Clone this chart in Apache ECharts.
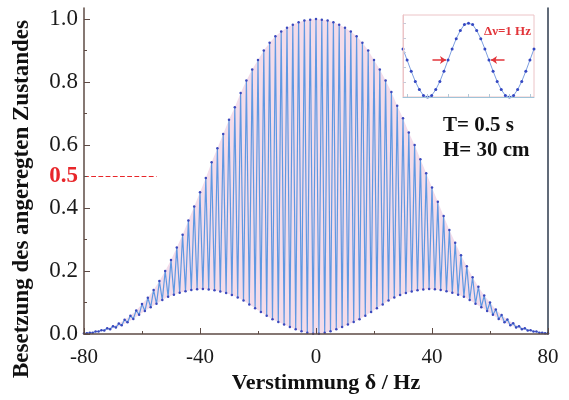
<!DOCTYPE html>
<html>
<head>
<meta charset="utf-8">
<script src="https://cdn.jsdelivr.net/npm/echarts@6/dist/echarts.min.js"></script>
<style>
  html, body { margin: 0; padding: 0; background: #fff; }
  #chart { width: 569px; height: 400px; }
</style>
</head>
<body>
<div id="chart"></div>
<script>
// fringe maxima at even detuning -80 ... 80 Hz
const peakValues = [
  0.002, 0.004, 0.008, 0.012, 0.018, 0.025, 0.033, 0.045, 0.058, 0.075,
  0.095, 0.115, 0.14, 0.168, 0.2, 0.235, 0.275, 0.315, 0.36, 0.405,
  0.45, 0.495, 0.545, 0.59, 0.635, 0.68, 0.72, 0.765, 0.805, 0.84,
  0.87, 0.9, 0.925, 0.945, 0.96, 0.972, 0.982, 0.99, 0.995, 0.998,
  1.0,
  0.998, 0.995, 0.99, 0.982, 0.972, 0.96, 0.945, 0.925, 0.9, 0.87,
  0.84, 0.805, 0.768, 0.725, 0.685, 0.64, 0.6, 0.555, 0.51, 0.465,
  0.42, 0.375, 0.33, 0.29, 0.25, 0.215, 0.18, 0.15, 0.122, 0.1,
  0.078, 0.06, 0.046, 0.034, 0.025, 0.018, 0.012, 0.008, 0.004, 0.002
]
// fringe minima at odd detuning -79 ... 79 Hz
const troughValues = [
  0.002, 0.004, 0.008, 0.011, 0.015, 0.021, 0.028, 0.037, 0.048, 0.061,
  0.073, 0.085, 0.096, 0.108, 0.118, 0.125, 0.131, 0.136, 0.14, 0.142,
  0.143, 0.141, 0.139, 0.135, 0.13, 0.124, 0.116, 0.106, 0.094, 0.082,
  0.07, 0.058, 0.047, 0.038, 0.03, 0.022, 0.015, 0.009, 0.004, 0.001,
  0.001, 0.004, 0.009, 0.015, 0.022, 0.03, 0.038, 0.047, 0.058, 0.07,
  0.082, 0.094, 0.106, 0.116, 0.124, 0.13, 0.135, 0.139, 0.141, 0.143,
  0.142, 0.14, 0.136, 0.131, 0.125, 0.118, 0.108, 0.096, 0.085, 0.073,
  0.061, 0.048, 0.037, 0.028, 0.021, 0.015, 0.011, 0.008, 0.004, 0.002
]
// inset: one fringe, detuning -1.6 ... 1.6 Hz in 0.1 Hz steps
const insetValues = [
  0.65, 0.5, 0.35, 0.21, 0.1, 0.02, 0, 0.02, 0.1, 0.21, 0.35,
  0.5, 0.65, 0.79, 0.9, 0.98, 1, 0.98, 0.9, 0.79, 0.65, 0.5,
  0.35, 0.21, 0.1, 0.02, 0, 0.02, 0.1, 0.21, 0.35, 0.5, 0.65
]
const yLabels = [0, 0.2, 0.4, 0.5, 0.6, 0.8, 1.0]
const yMajorTicks = [0, 0.2, 0.4, 0.6, 0.8, 1.0]
const yMinorTicks = [0.1, 0.3, 0.5, 0.7, 0.9]

const serif = '"Liberation Serif", "DejaVu Serif", serif'
const axisColor = '#5e4b45'

const peakPts = peakValues.map((v, i) => [-80 + 2 * i, v])
const troughPts = troughValues.map((v, i) => [-79 + 2 * i, v])
const fringePts = []
peakPts.forEach((p, i) => {
  fringePts.push(p)
  if (troughPts[i]) fringePts.push(troughPts[i])
})
const lowerPts = [peakPts[0], ...troughPts, peakPts[peakPts.length - 1]]
const insetPts = insetValues.map((v, i) => [Math.round((-1.6 + 0.1 * i) * 10) / 10, v])

const chart = echarts.init(document.getElementById('chart'), null, { renderer: 'canvas' })

chart.setOption({
  animation: false,
  backgroundColor: '#fff',
  grid: [
    { left: 84, right: 21, top: 8, bottom: 66 },
    { left: 403, top: 15, width: 131, height: 82, show: true, borderColor: '#ecc4c7', borderWidth: 1 }
  ],
  xAxis: [
    {
      type: 'value', gridIndex: 0, min: -80, max: 80, interval: 40, z: 10,
      axisLine: { onZero: false, lineStyle: { color: axisColor, width: 1.5 } },
      axisTick: { inside: true, length: 6, lineStyle: { color: axisColor } },
      minorTick: { show: true, splitNumber: 2, length: 3, lineStyle: { color: axisColor } },
      axisLabel: { color: '#1a1a1a', fontFamily: serif, fontSize: 21, margin: 13 },
      splitLine: { show: false }
    },
    {
      type: 'value', gridIndex: 1, min: -1.6, max: 1.6, z: 10,
      axisLine: { onZero: false, lineStyle: { color: '#9fc3d8', width: 1 } },
      axisTick: { inside: true, length: 3, customValues: [-1.5, -1, -0.5, 0, 0.5, 1, 1.5], lineStyle: { color: '#b5c8d6' } },
      axisLabel: { show: false },
      splitLine: { show: false }
    }
  ],
  yAxis: [
    {
      type: 'value', gridIndex: 0, min: 0, max: 1.035, position: 'left', z: 10,
      axisLine: { show: true, onZero: false, lineStyle: { color: axisColor, width: 1.5 } },
      axisTick: { inside: true, length: 6, customValues: yMajorTicks, lineStyle: { color: axisColor } },
      axisLabel: {
        customValues: yLabels,
        color: '#1a1a1a', fontFamily: serif, fontSize: 23, margin: 6,
        formatter: (v) => (v === 0.5 ? '{red|0.5}' : v.toFixed(1)),
        rich: { red: { color: '#e8262a', fontFamily: serif, fontSize: 23, fontWeight: 'bold' } }
      },
      splitLine: { show: false }
    },
    {
      type: 'value', gridIndex: 0, min: 0, max: 1.035, position: 'left', z: 10,
      axisLine: { show: false, onZero: false },
      axisTick: { inside: true, length: 3, customValues: yMinorTicks, lineStyle: { color: axisColor } },
      axisLabel: { show: false },
      splitLine: { show: false }
    },
    {
      type: 'value', gridIndex: 0, min: 0, max: 1.035, position: 'right', z: 10,
      axisLine: { show: true, onZero: false, lineStyle: { color: '#2c3a4c', width: 1.5 } },
      axisTick: { show: false },
      axisLabel: { show: false },
      splitLine: { show: false }
    },
    {
      type: 'value', gridIndex: 1, min: 0, max: 1.11, z: 10,
      axisLine: { show: true, onZero: false, lineStyle: { color: '#ecc4c7' } },
      axisTick: { inside: true, length: 3, customValues: [0.2, 0.4, 0.6, 0.8, 1.0], lineStyle: { color: '#c9c9d6' } },
      axisLabel: { show: false },
      splitLine: { show: false }
    }
  ],
  series: [
    {
      // pink band under the upper envelope
      type: 'line', xAxisIndex: 0, yAxisIndex: 0, data: peakPts,
      symbol: 'none', silent: true, z: 1,
      lineStyle: { width: 0 },
      areaStyle: { color: '#f3dcea', opacity: 1 }
    },
    {
      // clear the region below the lower envelope
      type: 'line', xAxisIndex: 0, yAxisIndex: 0, data: lowerPts,
      symbol: 'none', silent: true, z: 2,
      lineStyle: { width: 0 },
      areaStyle: { color: '#fff', opacity: 1 }
    },
    {
      type: 'line', xAxisIndex: 0, yAxisIndex: 0, data: fringePts, z: 3,
      symbol: 'circle', symbolSize: 2.5, showAllSymbol: true,
      lineStyle: { color: '#5f98e2', width: 1.2 },
      itemStyle: { color: '#3a48bd' },
      markLine: {
        silent: true, symbol: 'none',
        label: { show: false },
        lineStyle: { color: '#e8262a', type: 'dashed', width: 1.2 },
        data: [[{ coord: [-80, 0.5] }, { coord: [-55, 0.5] }]]
      }
    },
    {
      type: 'line', xAxisIndex: 1, yAxisIndex: 3, data: insetPts, z: 3,
      symbol: 'circle', symbolSize: 3, showAllSymbol: true,
      lineStyle: { color: '#7d9fe0', width: 1 },
      itemStyle: { color: '#3548c2' },
      markLine: {
        silent: true, symbol: ['none', 'arrow'], symbolSize: 6,
        label: { show: false },
        lineStyle: { color: '#e2353a', type: 'solid', width: 1.5 },
        data: [
          [{ coord: [-0.88, 0.5] }, { coord: [-0.55, 0.5] }],
          [{ coord: [0.88, 0.5] }, { coord: [0.55, 0.5] }]
        ]
      }
    }
  ],
  graphic: [
    {
      type: 'text', x: 22, y: 199, rotation: Math.PI / 2,
      style: { text: 'Besetzung des angeregten Zustandes', fontFamily: serif, fontSize: 23, fontWeight: 'bold', fill: '#111', align: 'center', verticalAlign: 'middle' }
    },
    {
      type: 'text', x: 326, y: 383,
      style: { text: 'Verstimmung δ / Hz', fontFamily: serif, fontSize: 22, fontWeight: 'bold', fill: '#111', align: 'center', verticalAlign: 'middle' }
    },
    {
      type: 'text', x: 443, y: 126,
      style: { text: 'T= 0.5 s', fontFamily: serif, fontSize: 21, fontWeight: 'bold', fill: '#111', align: 'left', verticalAlign: 'middle' }
    },
    {
      type: 'text', x: 443, y: 151,
      style: { text: 'H= 30 cm', fontFamily: serif, fontSize: 21, fontWeight: 'bold', fill: '#111', align: 'left', verticalAlign: 'middle' }
    },
    {
      type: 'text', x: 484, y: 32,
      style: { text: 'Δν=1 Hz', fontFamily: serif, fontSize: 13, fontWeight: 'bold', fill: '#e2353a', align: 'left', verticalAlign: 'middle' }
    }
  ]
})
</script>
</body>
</html>
